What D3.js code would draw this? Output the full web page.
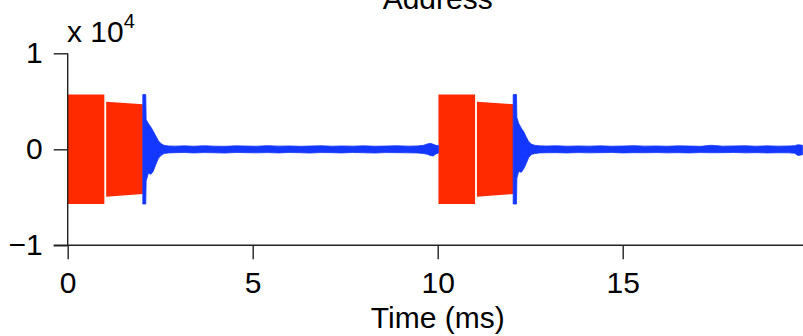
<!DOCTYPE html>
<html>
<head>
<meta charset="utf-8">
<script src="https://cdn.jsdelivr.net/npm/d3@7"></script>
<style>
  html, body { margin: 0; padding: 0; background: #fff; }
  svg { display: block; }
  text { font-family: "Liberation Sans", Arial, Helvetica, sans-serif; fill: #000; }
</style>
</head>
<body>
<div id="chart"></div>
<script>
// ── data (raw amplitude, axis shows x 10^4) ─────────────────────────────
const xTicks = [0, 5, 10, 15];
const yTicks = [-10000, 0, 10000];
const yTickLabels = ['\u22121', '0', '1'];

// red dense bursts: one entry per block
const redStart    = [0.00, 1.04, 10.02, 11.06];
const redEnd      = [0.99, 2.03, 11.01, 12.05];
const redTopStart = [5700, 4950, 5700, 4950];
const redTopEnd   = [5700, 4700, 5700, 4700];
const redBotStart = [-5700, -4950, -5700, -4950];
const redBotEnd   = [-5700, -4650, -5700, -4650];

// blue trace envelope (upper / lower)
const blueT  = [2.03, 2.11, 2.12, 2.18, 2.25, 2.31, 2.38, 2.45, 2.52, 2.60, 2.72, 2.90,
                3.15, 3.40, 3.70, 3.95, 4.25, 4.55, 4.80, 5.10, 5.40, 5.70, 6.00, 6.30,
                6.55, 6.85, 7.15, 7.40, 7.70, 8.00, 8.30, 8.60, 8.90, 9.20, 9.45, 9.62,
                9.72, 9.80, 9.88, 9.95, 10.02,
                12.04, 12.13, 12.14, 12.19, 12.26, 12.33, 12.39, 12.46, 12.53, 12.62, 12.75, 12.95,
                13.20, 13.50, 13.80, 14.10, 14.40, 14.70, 15.00, 15.30, 15.60, 15.90, 16.20,
                16.50, 16.80, 17.10, 17.40, 17.70, 18.00, 18.30, 18.60, 18.90, 19.20, 19.50,
                19.65, 19.74, 19.86];
const blueHi = [5700, 5700, 3100, 2700, 2300, 1900, 1400, 900, 600, 420, 350, 330,
                360, 320, 370, 330, 310, 360, 340, 320, 380, 330, 350, 310,
                340, 370, 320, 350, 330, 360, 320, 340, 370, 330, 350, 420,
                560, 620, 520, 420, 380,
                5700, 5700, 3300, 2700, 2200, 1800, 1300, 800, 550, 420, 360, 340,
                370, 320, 350, 330, 360, 320, 340, 380, 330, 350, 320,
                360, 340, 310, 420, 330, 350, 370, 320, 360, 330, 350,
                380, 480, 420];
const blueLo = [-5700, -5700, -3300, -2500, -2600, -2300, -1600, -950, -650, -450, -380, -350,
                -330, -380, -340, -360, -390, -330, -350, -370, -340, -380, -330, -360,
                -390, -340, -350, -380, -330, -360, -390, -340, -350, -370, -380, -450,
                -520, -650, -700, -480, -400,
                -5700, -5700, -3000, -2300, -2400, -2000, -1500, -850, -550, -450, -380, -360,
                -350, -380, -340, -370, -350, -330, -380, -350, -360, -340, -370,
                -350, -380, -340, -360, -350, -330, -370, -350, -380, -360, -370,
                -420, -650, -560];

// ── layout ───────────────────────────────────────────────────────────────
const W = 803, H = 336;
const x0 = 67.7, pxPerMs = 37;
const yTop = 53.3, yBot = 245.3;
const tickLen = 14;
const fontSize = 30;

const svg = d3.select('#chart').append('svg')
  .attr('width', W).attr('height', H);

const x = d3.scaleLinear().domain([0, 20]).range([x0, x0 + 20 * pxPerMs]);
const y = d3.scaleLinear().domain([-10000, 10000]).range([yBot, yTop]);

// red blocks
const blocks = redStart.map((s, i) => [
  { t: s,          hi: redTopStart[i], lo: redBotStart[i] },
  { t: redEnd[i],  hi: redTopEnd[i],   lo: redBotEnd[i] }
]);
const area = d3.area()
  .x(d => x(d.t))
  .y0(d => y(d.lo))
  .y1(d => y(d.hi));

svg.append('g').selectAll('path')
  .data(blocks)
  .enter().append('path')
  .attr('d', area)
  .attr('fill', '#ff2a00');

// blue trace
const blue = blueT.map((t, i) => ({ t, hi: blueHi[i], lo: blueLo[i] }));
const segs = [blue.filter(d => d.t < 11), blue.filter(d => d.t > 11)];
svg.append('g').selectAll('path')
  .data(segs)
  .enter().append('path')
  .attr('d', area)
  .attr('fill', '#1437ff')
  .attr('stroke', '#1437ff')
  .attr('stroke-width', 0.8);

// ── axes ─────────────────────────────────────────────────────────────────
const xAxis = d3.axisBottom(x).tickValues(xTicks).tickSize(tickLen).tickPadding(12);
const gx = svg.append('g').attr('transform', `translate(0,${yBot})`).call(xAxis);
gx.select('.domain').attr('d', `M${x0 - tickLen},0H${W + 10}`);

const yAxis = d3.axisLeft(y).tickValues(yTicks).tickSize(tickLen).tickPadding(11)
  .tickFormat((d, i) => yTickLabels[i]);
const gy = svg.append('g').attr('transform', `translate(${x0},0)`).call(yAxis);
gy.select('.domain').attr('d', `M0,${yTop}V${yBot}`);

svg.selectAll('.tick line, .domain')
  .attr('stroke', '#222').attr('stroke-width', 1.4);
svg.selectAll('.tick text')
  .style('font-size', fontSize + 'px')
  .style('font-family', '"Liberation Sans", Arial, sans-serif')
  .attr('fill', '#000');

// exponent label
const expo = svg.append('text')
  .attr('x', 67).attr('y', 42)
  .style('font-size', fontSize + 'px');
expo.append('tspan').text('x 10');
expo.append('tspan').attr('dy', -14).style('font-size', '20px').text('4');

// title (clipped at top, as in the reference)
svg.append('text')
  .attr('x', x(10)).attr('y', 9)
  .attr('text-anchor', 'middle')
  .style('font-size', fontSize + 'px')
  .text('Address');

// x label
svg.append('text')
  .attr('x', x(10)).attr('y', 328)
  .attr('text-anchor', 'middle')
  .style('font-size', fontSize + 'px')
  .text('Time (ms)');
</script>
</body>
</html>
